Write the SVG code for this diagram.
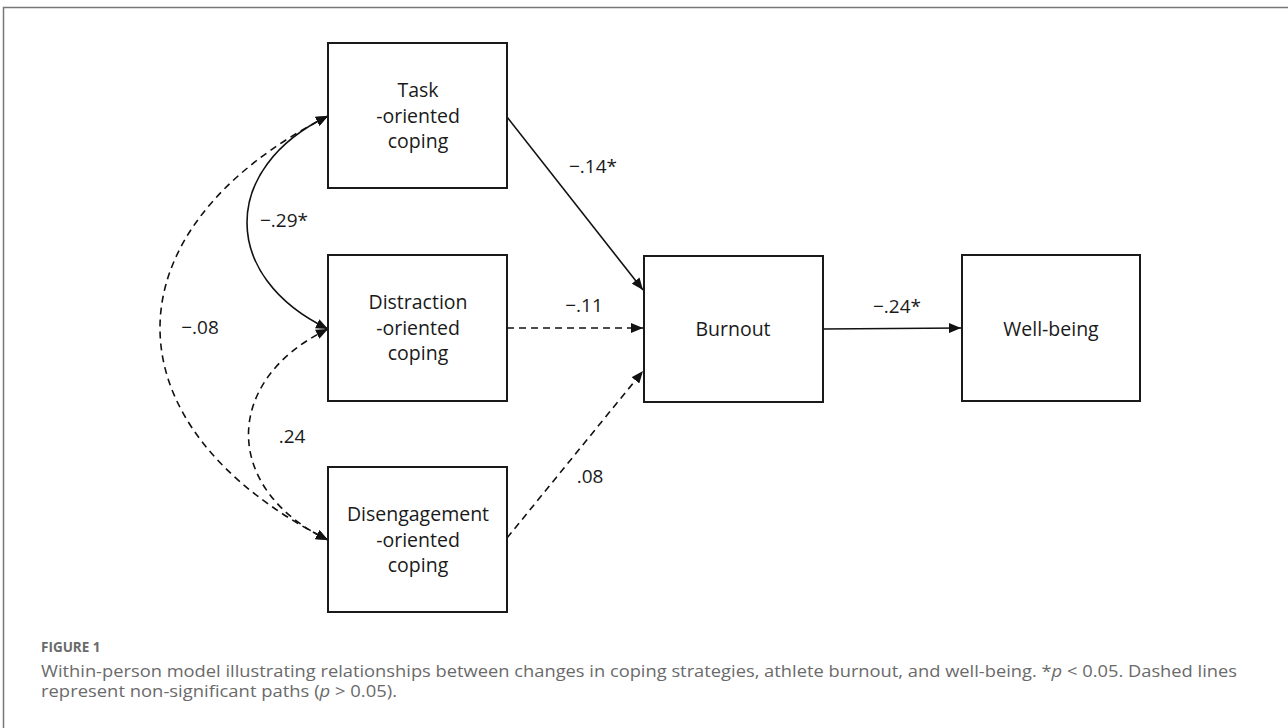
<svg xmlns="http://www.w3.org/2000/svg" width="1288" height="728" viewBox="0 0 1288 728">
<style>
.box{fill:#fff;stroke:#1a1a1a;stroke-width:2}
.t{font-family:"Open Sans","Liberation Sans",sans-serif;font-size:19.5px;fill:#1a1a1a;text-anchor:middle}
.lbl{font-family:"Open Sans","Liberation Sans",sans-serif;font-size:19px;fill:#1a1a1a;text-anchor:middle}
.c{fill:none;stroke:#111;stroke-width:1.6}
.d{stroke-dasharray:7,5}
.cap{font-family:"Open Sans","Liberation Sans",sans-serif;fill:#6a6a6a}
</style>
<defs>
<marker id="ah" viewBox="0 0 12 10" refX="12" refY="5" markerWidth="12" markerHeight="10" markerUnits="userSpaceOnUse" orient="auto-start-reverse">
<path d="M0,0 L12,5 L0,10 z" fill="#111"/>
</marker>
</defs>
<rect x="3.5" y="7.5" width="1300" height="740" fill="none" stroke="#777" stroke-width="1.5"/>
<g id="connectors">
<path class="c" d="M507,117 L643,290" marker-end="url(#ah)"/>
<path class="c d" d="M507,328 L643,328" marker-end="url(#ah)"/>
<path class="c d" d="M507,538 L643,371" marker-end="url(#ah)"/>
<path class="c" d="M823,329 L961,328" marker-end="url(#ah)"/>
<path class="c" d="M328,116 C220,168 220,277 328,329" marker-start="url(#ah)" marker-end="url(#ah)"/>
<path class="c d" d="M328,329 C222,380 222,489 328,540" marker-start="url(#ah)" marker-end="url(#ah)"/>
<path class="c d" d="M328,116 C104,230 104,426 328,540" marker-start="url(#ah)" marker-end="url(#ah)"/>
<text class="lbl" x="593" y="173">−.14*</text>
<text class="lbl" x="584" y="312">−.11</text>
<text class="lbl" x="590" y="483">.08</text>
<text class="lbl" x="897" y="313">−.24*</text>
<text class="lbl" x="284" y="227">−.29*</text>
<text class="lbl" x="292" y="443">.24</text>
<text class="lbl" x="200" y="334">−.08</text>
</g>
<g id="task">
<rect class="box" x="328" y="43" width="179" height="145"/>
<text class="t" x="418" y="97">Task</text>
<text class="t" x="418" y="123">-oriented</text>
<text class="t" x="418" y="148">coping</text>
</g>
<g id="distraction">
<rect class="box" x="328" y="255" width="179" height="146"/>
<text class="t" x="418" y="309">Distraction</text>
<text class="t" x="418" y="335">-oriented</text>
<text class="t" x="418" y="360">coping</text>
</g>
<g id="disengagement">
<rect class="box" x="328" y="467" width="179" height="145"/>
<text class="t" x="418" y="521">Disengagement</text>
<text class="t" x="418" y="547">-oriented</text>
<text class="t" x="418" y="572">coping</text>
</g>
<g id="burnout">
<rect class="box" x="644" y="256" width="179" height="146"/>
<text class="t" x="733" y="336">Burnout</text>
</g>
<g id="wellbeing">
<rect class="box" x="962" y="255" width="178" height="146"/>
<text class="t" x="1051" y="336">Well-being</text>
</g>
<g id="caption">
<text class="cap" x="41" y="652" font-size="13.5" font-weight="bold" fill="#555">FIGURE 1</text>
<text class="cap" x="41" y="677" font-size="15.5" textLength="1196" lengthAdjust="spacingAndGlyphs">Within-person model illustrating relationships between changes in coping strategies, athlete burnout, and well-being. *<tspan font-style="italic">p</tspan> &lt; 0.05. Dashed lines</text>
<text class="cap" x="41" y="697" font-size="15.5" textLength="356" lengthAdjust="spacingAndGlyphs">represent non-significant paths (<tspan font-style="italic">p</tspan> &gt; 0.05).</text>
</g>
</svg>
